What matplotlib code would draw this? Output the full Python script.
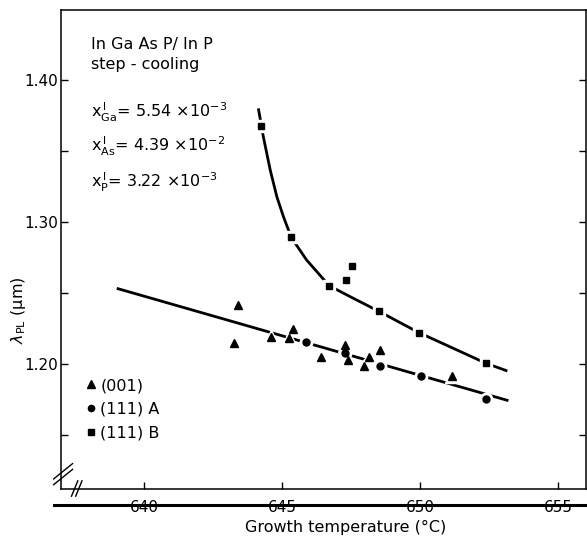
import matplotlib
matplotlib.use('Agg')
import matplotlib.pyplot as plt
from matplotlib.lines import Line2D

# (001) triangles
tri_T = [643.42, 643.24, 644.60, 645.39, 645.26, 646.40, 647.28, 647.40, 647.98, 648.14, 648.53, 651.15]
tri_L = [1.2415, 1.2150, 1.2192, 1.2246, 1.2181, 1.2047, 1.2136, 1.2028, 1.1986, 1.2051, 1.2096, 1.1915]

# (111)A circles
circ_T = [645.87, 647.28, 648.53, 650.03, 652.39]
circ_L = [1.2153, 1.2080, 1.1988, 1.1918, 1.1751]

# (111)B squares
sq_T = [644.23, 645.33, 646.71, 647.32, 647.54, 648.51, 649.97, 652.39]
sq_L = [1.3678, 1.2892, 1.2551, 1.2592, 1.2692, 1.2371, 1.2220, 1.2005]

# hand drawn guide curves
curveB_T = [644.14, 644.32, 644.57, 644.81, 645.05, 645.33, 645.89, 646.71, 647.58, 648.51, 649.28, 649.97, 651.21, 652.39, 653.16]
curveB_L = [1.3800, 1.3601, 1.3366, 1.3178, 1.3037, 1.2892, 1.2732, 1.2551, 1.2463, 1.2371, 1.2291, 1.2220, 1.2110, 1.2005, 1.1951]
lineA_T = [639.01, 653.20]
lineA_L = [1.2533, 1.1742]

xticks = [640, 645, 650, 655]
yticks = [1.15, 1.20, 1.25, 1.30, 1.35, 1.40]
ytick_labels = ['', '1.20', '', '1.30', '', '1.40']

plt.rcParams['font.family'] = 'DejaVu Sans'
plt.rcParams['mathtext.fontset'] = 'dejavusans'

W, H = 587, 539
fig = plt.figure(figsize=(W / 100, H / 100), dpi=100)
ax = fig.add_axes([61 / W, 1 - 489 / H, (586 - 61) / W, (489 - 10) / H])

def px(x, y):
    return x / W, 1 - y / H

# guide lines
ax.plot(lineA_T, lineA_L, color='black', lw=2.0, solid_capstyle='butt', zorder=2)
ax.plot(curveB_T, curveB_L, color='black', lw=2.0, solid_capstyle='butt', zorder=2)

# white halos give the breaks in the lines around the points
for T, L, m, s in [(tri_T, tri_L, '^', 10), (circ_T, circ_L, 'o', 9), (sq_T, sq_L, 's', 9)]:
    ax.plot(T, L, ls='none', marker=m, ms=s, color='white', mec='white', zorder=3)

ax.plot(tri_T, tri_L, ls='none', marker='^', ms=6, color='black', label='(001)', zorder=4)
ax.plot(circ_T, circ_L, ls='none', marker='o', ms=5, color='black', label='(111) A', zorder=4)
ax.plot(sq_T, sq_L, ls='none', marker='s', ms=5, color='black', label='(111) B', zorder=4)

ax.set_xlim(636.99, 656.01)
ax.set_ylim(1.1120, 1.4493)
ax.set_xticks(xticks)
ax.set_xticklabels([str(t) for t in xticks])
ax.set_yticks(yticks)
ax.set_yticklabels(ytick_labels)
ax.tick_params(direction='in', length=5, width=1, labelsize=11, right=True)
ax.tick_params(axis='x', pad=8)
ax.tick_params(axis='y', pad=2)
for sp in ax.spines.values():
    sp.set_linewidth(1.1)

leg = ax.legend(loc='upper left', bbox_to_anchor=(0.035, 0.245), frameon=False,
                handlelength=0.6, handletextpad=0.3, labelspacing=0.55,
                borderaxespad=0, fontsize=11.5, markerscale=0.9)

# axis break marks
for dy in (-0.006, 0.006):
    ax.plot([-0.014, 0.022], [0.015 + dy, 0.047 + dy], color='black', lw=1,
            transform=ax.transAxes, clip_on=False)
for dx in (-0.004, 0.004):
    ax.plot([0.024 + dx, 0.036 + dx], [-0.015, 0.017], color='black', lw=1,
            transform=ax.transAxes, clip_on=False)

# heavy rule crossing the x tick labels
x0, y0 = px(54, 505)
fig.add_artist(Line2D([x0, 1.0], [y0, y0], color='black', lw=2.2, zorder=10))

# annotation block
fig.text(*px(91, 44), 'In Ga As P/ In P', fontsize=11.5, va='center', ha='left')
fig.text(*px(91, 64), 'step - cooling', fontsize=11.5, va='center', ha='left')
fig.text(*px(91, 112), r'x$_{\mathrm{Ga}}^{\,\mathrm{l}}$= 5.54 ×10$^{-3}$', fontsize=11.5, va='center', ha='left')
fig.text(*px(91, 146), r'x$_{\mathrm{As}}^{\,\mathrm{l}}$= 4.39 ×10$^{-2}$', fontsize=11.5, va='center', ha='left')
fig.text(*px(91, 182), r'x$_{\mathrm{P}}^{\,\mathrm{l}}$= 3.22 ×10$^{-3}$', fontsize=11.5, va='center', ha='left')

fig.text(*px(19, 310), r'$\lambda_{\mathrm{PL}}$ (μm)', fontsize=11.5, rotation=90, va='center', ha='center')
fig.text(*px(346, 527), 'Growth temperature (°C)', fontsize=11.5, va='center', ha='center')

fig.savefig('out.png', dpi=100)
